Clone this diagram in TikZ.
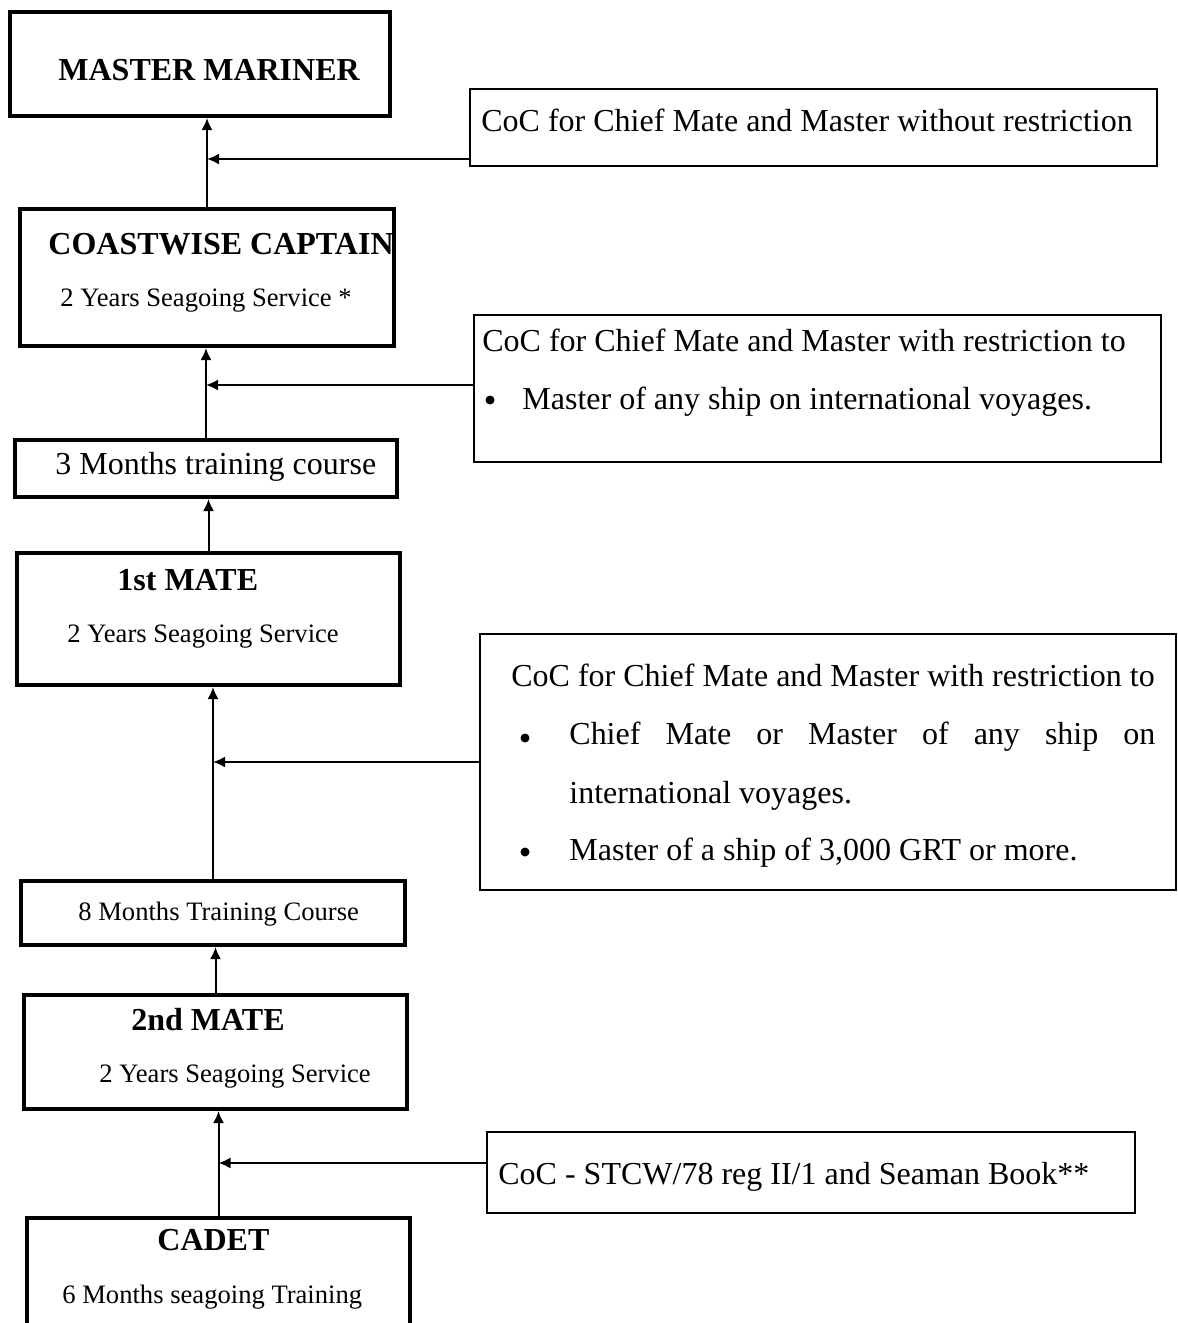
\documentclass[tikz,border=0pt]{standalone}
\usepackage{fontspec}
\setmainfont{Liberation Serif}
\usetikzlibrary{arrows.meta}

\begin{document}
\begin{tikzpicture}[x=0.5pt,y=-0.5pt,
		rank/.style={draw,line width=2pt,rectangle,inner sep=0pt},
		coc/.style={draw,line width=1pt,rectangle,inner sep=0pt},
		txt/.style={inner sep=0pt,anchor=base west,font=\fontsize{16}{19}\selectfont},
		title/.style={inner sep=0pt,anchor=base west,font=\fontsize{16}{19}\selectfont\bfseries},
		sub/.style={inner sep=0pt,anchor=base west,font=\fontsize{13.3}{16}\selectfont},
		dot/.style={circle,fill,inner sep=0pt,minimum size=4.5pt},
		arr/.style={line width=1pt,-{Latex[length=6pt,width=5.5pt]}}]
		\useasboundingbox (0,0) rectangle (1178,1323);
		\node[rank,minimum width=190pt,minimum height=52pt] (master) at (200,64) {};
		\node[rank,minimum width=187pt,minimum height=68.5pt] (coast) at (207,277.5) {};
		\node[rank,minimum width=191pt,minimum height=28.5pt] (three) at (206,468.5) {};
		\node[rank,minimum width=191.5pt,minimum height=66pt] (first) at (208.5,619) {};
		\node[rank,minimum width=192pt,minimum height=32pt] (eight) at (213,913) {};
		\node[rank,minimum width=191.5pt,minimum height=57pt] (second) at (215.5,1052) {};
		\node[rank,minimum width=191.5pt,minimum height=54pt] (cadet) at (218.5,1272) {};
		\node[coc,minimum width=343.5pt,minimum height=38.5pt] (coc1) at (813.5,127.5) {};
		\node[coc,minimum width=343.5pt,minimum height=73.5pt] (coc2) at (817.5,388.5) {};
		\node[coc,minimum width=348pt,minimum height=128pt] (coc3) at (828,762) {};
		\node[coc,minimum width=324pt,minimum height=40.5pt] (coc4) at (811,1172.5) {};
		\node[title] (masterT) at (58,80) {MASTER MARINER};
		\node[title] (coastT) at (48,254) {COASTWISE CAPTAIN};
		\node[sub] (coastS) at (60,306) {2 Years Seagoing Service *};
		\node[txt] (threeT) at (55,474) {3 Months training course};
		\node[title] (firstT) at (117,590) {1st MATE};
		\node[sub] (firstS) at (67,642) {2 Years Seagoing Service};
		\node[sub] (eightT) at (78,920) {8 Months Training Course};
		\node[title] (secondT) at (131,1030) {2nd MATE};
		\node[sub] (secondS) at (99,1082) {2 Years Seagoing Service};
		\node[title] (cadetT) at (157,1250) {CADET};
		\node[sub] (cadetS) at (62,1303) {6 Months seagoing Training};
		\node[txt] (coc1T) at (481,131) {CoC for Chief Mate and Master without restriction};
		\node[txt] (coc2T) at (482,351) {CoC for Chief Mate and Master with restriction to};
		\node[dot] (coc2b) at (490,400) {};
		\node[txt] (coc2L) at (522,409) {Master of any ship on international voyages.};
		\node[txt] (coc3T) at (511,686) {CoC for Chief Mate and Master with restriction to};
		\node[dot] (coc3b1) at (525,738) {};
		\node[txt] (coc3La) at (569,744) {\makebox[293pt][s]{Chief Mate or Master of any ship on}};
		\node[txt] (coc3Lb) at (569,803) {international voyages.};
		\node[dot] (coc3b2) at (525,852) {};
		\node[txt] (coc3Lc) at (569,860) {Master of a ship of 3,000 GRT or more.};
		\node[txt] (coc4T) at (498,1184) {CoC - STCW/78 reg II/1 and Seaman Book**};
		\coordinate (j1) at (207,159);
		\coordinate (j2) at (206,385);
		\coordinate (j3) at (213,762);
		\coordinate (j4) at (218.5,1163);
		\draw[arr] (coast.north) -- (coast.north |- master.south);
		\draw[arr] (j1 -| coc1.west) -- (j1);
		\draw[arr] (three.north) -- (three.north |- coast.south);
		\draw[arr] (j2 -| coc2.west) -- (j2);
		\draw[arr] (first.north) -- (first.north |- three.south);
		\draw[arr] (eight.north) -- (eight.north |- first.south);
		\draw[arr] (j3 -| coc3.west) -- (j3);
		\draw[arr] (second.north) -- (second.north |- eight.south);
		\draw[arr] (cadet.north) -- (cadet.north |- second.south);
		\draw[arr] (j4 -| coc4.west) -- (j4);
	\end{tikzpicture}
\end{document}
